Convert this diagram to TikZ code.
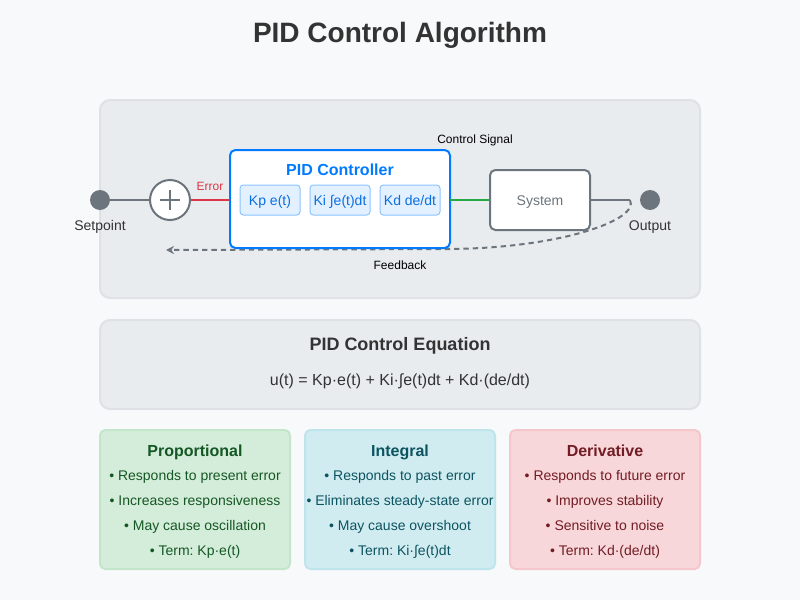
\documentclass[tikz,border=0pt]{standalone}
\usepackage{fontspec}
\setmainfont{Liberation Sans}
\usetikzlibrary{arrows.meta,calc}
\frenchspacing
\definecolor{bg}{HTML}{F8F9FA}
\definecolor{panel}{HTML}{E9ECEF}
\definecolor{panelline}{HTML}{DEE2E6}
\definecolor{dark}{HTML}{333333}
\definecolor{gray6}{HTML}{6C757D}
\definecolor{blue}{HTML}{007BFF}
\definecolor{subfill}{HTML}{E3F0FF}
\definecolor{subline}{HTML}{8CC4FF}
\definecolor{subtext}{HTML}{0A6FE0}
\definecolor{red}{HTML}{DC3545}
\definecolor{green}{HTML}{28A745}
\definecolor{pfill}{HTML}{D4EDDA}\definecolor{pline}{HTML}{C3E6CB}\definecolor{ptext}{HTML}{155724}
\definecolor{ifill}{HTML}{D1ECF1}\definecolor{iline}{HTML}{BEE5EB}\definecolor{itext}{HTML}{0C5460}
\definecolor{dfill}{HTML}{F8D7DA}\definecolor{dline}{HTML}{F5C6CB}\definecolor{dtext}{HTML}{721C24}
\newcommand{\fs}[1]{\fontsize{#1}{#1}\selectfont}
\tikzset{
  txt/.style={inner sep=0pt, anchor=base, text=dark},
  panelbox/.style={draw=panelline, fill=panel, line width=1.5pt, rounded corners=7.5pt},
  subbox/.style={draw=subline, fill=subfill, line width=0.75pt, rounded corners=2.5pt},
  dot/.style={circle, fill=gray6, minimum size=15pt, inner sep=0pt},
  card/.style={line width=1.5pt, rounded corners=4pt},
}
\begin{document}
\begin{tikzpicture}[x=0.75pt, y=-0.75pt]
\fill[bg] (0,0) rectangle (800,600);
\useasboundingbox (0,0) rectangle (800,600);

% title
\node[txt, font=\fs{21}\bfseries] (title) at (400,42) {PID Control Algorithm};

% top panel
\draw[panelbox] (100,100) rectangle (700,298);

% feedback (drawn first, under boxes)
\coordinate (fbstart) at (630,200);
\coordinate (fbend) at (166,250);
\draw[gray6, line width=1.5pt, dash pattern=on 4pt off 3pt, -{Stealth[length=6pt,width=6pt]}]
  (fbstart) .. controls (640,220) and (560,248) .. (450,249) -- (fbend);

% setpoint
\node[dot] (sp) at (100,200) {};
\node[txt, font=\fs{10.5}] (spl) at (100,230) {Setpoint};
% sum
\node[circle, draw=gray6, fill=white, line width=1.5pt, minimum size=30pt, inner sep=0pt] (sum) at (170,200) {};
\draw[gray6, line width=1.5pt] ($(sum)+(-10,0)$) -- ($(sum)+(10,0)$) ($(sum)+(0,-10)$) -- ($(sum)+(0,10)$);
\draw[gray6, line width=1.5pt] (sp) -- (sum);

% PID controller
\draw[blue, fill=white, line width=1.5pt, rounded corners=4pt] (230,150) rectangle (450,248);
\coordinate (pidW) at (230,200);
\coordinate (pidE) at (450,200);
\node[txt, font=\fs{12}\bfseries, text=blue] (pidt) at (340,175) {PID Controller};
\draw[subbox] (240,185) rectangle (300,215);
\draw[subbox] (310,185) rectangle (370,215);
\draw[subbox] (380,185) rectangle (440,215);
\node[txt, font=\fs{10.5}, text=subtext] (kp) at (270,205) {Kp e(t)};
\node[txt, font=\fs{10.5}, text=subtext] (ki) at (340,205) {Ki ∫e(t)dt};
\node[txt, font=\fs{10.5}, text=subtext] (kd) at (410,205) {Kd de/dt};

% error
\draw[red, line width=1.5pt] (sum.east) -- (pidW);
\node[txt, font=\fs{9}, text=red] (err) at (210,190) {Error};

% system
\node[draw=gray6, fill=white, line width=1.5pt, rounded corners=4pt, minimum width=75pt, minimum height=45pt, inner sep=0pt] (sys) at (540,200) {};
\node[txt, font=\fs{10.5}, text=gray6] (sysl) at (540,205) {System};
\draw[green, line width=1.5pt] (pidE) -- (sys.west);
\node[txt, font=\fs{9}, text=black] (cs) at (475,143) {Control Signal};

% output
\node[dot] (out) at (650,200) {};
\draw[gray6, line width=1.5pt] (sys.east) -- (fbstart);
\node[txt, font=\fs{10.5}] (outl) at (650,230) {Output};
\node[txt, font=\fs{9}, text=black] (fb) at (400,269) {Feedback};

% equation panel
\draw[panelbox] (100,320) rectangle (700,409);
\node[txt, font=\fs{13.5}\bfseries] (eqt) at (400,350) {PID Control Equation};
\node[txt, font=\fs{12}] (eq) at (400,385) {u(t) = Kp·e(t) + Ki·∫e(t)dt + Kd·(de/dt)};

% cards
\draw[card, draw=pline, fill=pfill] (100,430) rectangle (290,569);
\draw[card, draw=iline, fill=ifill] (305,430) rectangle (495,569);
\draw[card, draw=dline, fill=dfill] (510,430) rectangle (700,569);

\node[txt, font=\fs{12}\bfseries, text=ptext] (pt) at (195,456) {Proportional};
\node[txt, font=\fs{10.5}, text=ptext] (p1) at (195,480) {• Responds to present error};
\node[txt, font=\fs{10.5}, text=ptext] (p2) at (195,505) {• Increases responsiveness};
\node[txt, font=\fs{10.5}, text=ptext] (p3) at (195,530) {• May cause oscillation};
\node[txt, font=\fs{10.5}, text=ptext] (p4) at (195,555) {• Term: Kp·e(t)};

\node[txt, font=\fs{12}\bfseries, text=itext] (it) at (400,456) {Integral};
\node[txt, font=\fs{10.5}, text=itext] (i1) at (400,480) {• Responds to past error};
\node[txt, font=\fs{10.5}, text=itext] (i2) at (400,505) {• Eliminates steady-state error};
\node[txt, font=\fs{10.5}, text=itext] (i3) at (400,530) {• May cause overshoot};
\node[txt, font=\fs{10.5}, text=itext] (i4) at (400,555) {• Term: Ki·∫e(t)dt};

\node[txt, font=\fs{12}\bfseries, text=dtext] (dt) at (605,456) {Derivative};
\node[txt, font=\fs{10.5}, text=dtext] (d1) at (605,480) {• Responds to future error};
\node[txt, font=\fs{10.5}, text=dtext] (d2) at (605,505) {• Improves stability};
\node[txt, font=\fs{10.5}, text=dtext] (d3) at (605,530) {• Sensitive to noise};
\node[txt, font=\fs{10.5}, text=dtext] (d4) at (605,555) {• Term: Kd·(de/dt)};
\end{tikzpicture}
\end{document}
